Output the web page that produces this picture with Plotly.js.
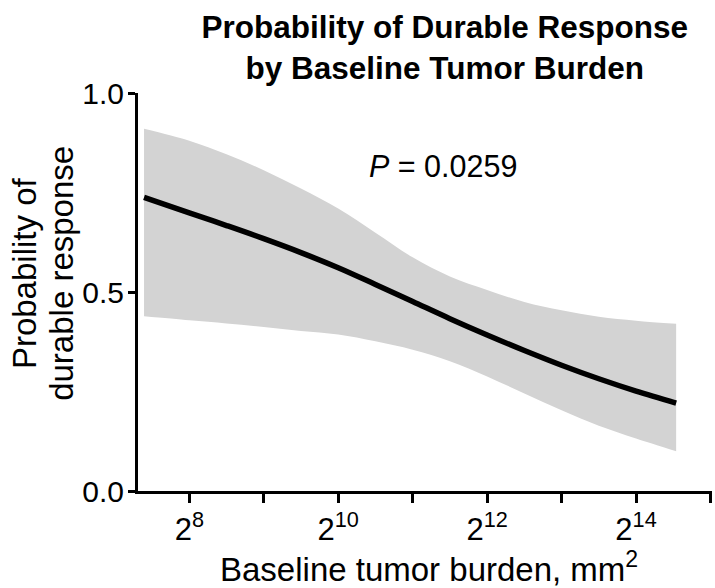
<!DOCTYPE html>
<html>
<head>
<meta charset="utf-8">
<script src="https://cdn.plot.ly/plotly-3.0.1.min.js"></script>
<style>html,body{margin:0;padding:0;background:#fff;}#chart{width:715px;height:588px;}</style>
</head>
<body>
<div id="chart"></div>
<script>
// Baseline tumor burden (mm^2)
const burden = [168, 256, 362, 512, 724, 1024, 1448, 2048, 2896, 4096, 5793, 8192, 11585, 16384, 23800];
// Fitted probability of durable response
const probFit = [0.738, 0.699, 0.667, 0.634, 0.599, 0.561, 0.519, 0.476, 0.433, 0.392, 0.353, 0.316, 0.282, 0.251, 0.221];
// 95% confidence band
const ciUpper = [0.910, 0.880, 0.846, 0.806, 0.760, 0.710, 0.649, 0.587, 0.539, 0.505, 0.475, 0.454, 0.438, 0.428, 0.420];
const ciLower = [0.439, 0.429, 0.421, 0.412, 0.402, 0.393, 0.376, 0.355, 0.326, 0.288, 0.245, 0.203, 0.164, 0.132, 0.100];
// Axis ticks
const xTickVals = [256, 512, 1024, 2048, 4096, 8192, 16384, 32768];
const xTickText = ["2<sup>8</sup>", "", "2<sup>10</sup>", "", "2<sup>12</sup>", "", "2<sup>14</sup>", ""];
const yTickVals = [0, 0.5, 1];
const yTickText = ["0.0", "0.5", "1.0"];
const pText = "<i>P</i> = 0.0259";
const yTitleLines = ["Probability of", "durable response"];

const FONT = "Liberation Sans, Arial, Helvetica, sans-serif";
const band = '#d3d3d3';

const traces = [
  {x: burden, y: ciLower, type: 'scatter', mode: 'lines', line: {width: 0, color: band, shape: 'spline'}, hoverinfo: 'skip', showlegend: false},
  {x: burden, y: ciUpper, type: 'scatter', mode: 'lines', fill: 'tonexty', fillcolor: band, line: {width: 0, color: band, shape: 'spline'}, hoverinfo: 'skip', showlegend: false},
  {x: burden, y: probFit, type: 'scatter', mode: 'lines', line: {width: 5.5, color: '#000', shape: 'spline'}, showlegend: false}
];

const layout = {
  width: 715, height: 588,
  margin: {l: 138, r: 3, t: 93, b: 97},
  paper_bgcolor: '#fff', plot_bgcolor: '#fff',
  font: {family: FONT, size: 31, color: '#000'},
  title: {
    text: '<b>Probability of Durable Response</b><br><b>by Baseline Tumor Burden</b>',
    font: {family: FONT, size: 31.5, color: '#000'},
    xref: 'container', x: 0.622, xanchor: 'center',
    yref: 'container', y: 0.935, yanchor: 'top'
  },
  xaxis: {
    type: 'log',
    range: [2.2009, 4.5215],
    tickmode: 'array', tickvals: xTickVals, ticktext: xTickText,
    ticks: 'outside', ticklen: 9, tickwidth: 3, tickcolor: '#000',
    showline: true, linewidth: 3, linecolor: '#000',
    showgrid: false, zeroline: false,
    tickfont: {family: FONT, size: 31, color: '#000'}
  },
  yaxis: {
    range: [0, 1],
    tickmode: 'array', tickvals: yTickVals, ticktext: yTickText,
    ticks: 'outside', ticklen: 7, tickwidth: 3, tickcolor: '#000',
    showline: true, linewidth: 3, linecolor: '#000',
    showgrid: false, zeroline: false,
    ticklabelstandoff: -2,
    tickfont: {family: FONT, size: 30, color: '#000'}
  },
  annotations: [
    {text: pText, xref: 'paper', yref: 'paper', x: 0.531, y: 0.817, xanchor: 'center', yanchor: 'middle', showarrow: false, font: {family: FONT, size: 30.5, color: '#000'}},
    {text: 'Baseline tumor burden, mm<sup>2</sup>', xref: 'paper', yref: 'paper', x: 0.507, y: -0.19, xanchor: 'center', yanchor: 'middle', showarrow: false, font: {family: FONT, size: 33, color: '#000'}},
    {text: yTitleLines[0], xref: 'paper', yref: 'paper', x: -0.1965, y: 0.548, xanchor: 'center', yanchor: 'middle', textangle: -90, showarrow: false, font: {family: FONT, size: 33, color: '#000'}},
    {text: yTitleLines[1], xref: 'paper', yref: 'paper', x: -0.1325, y: 0.548, xanchor: 'center', yanchor: 'middle', textangle: -90, showarrow: false, font: {family: FONT, size: 33, color: '#000'}}
  ]
};

Plotly.newPlot('chart', traces, layout, {displayModeBar: false, staticPlot: true});
</script>
</body>
</html>
